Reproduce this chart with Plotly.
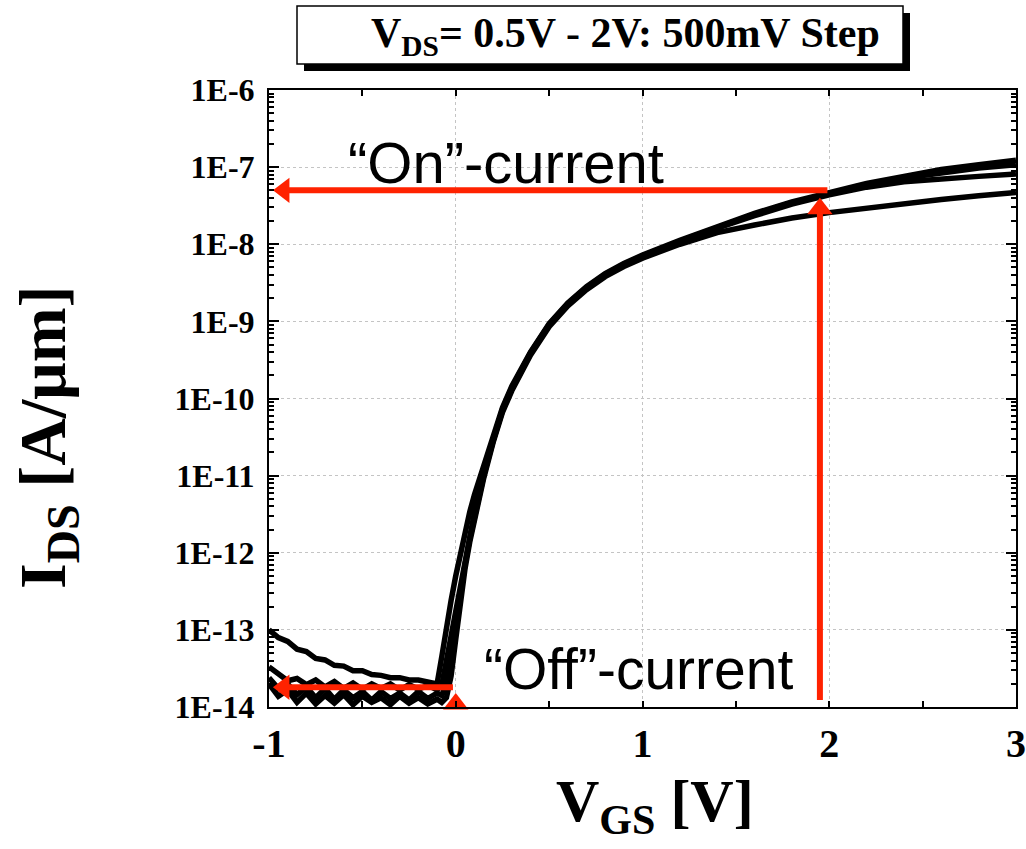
import numpy as np
import plotly.graph_objects as go

# ---------------- data ----------------
VGS = [-1.0, -0.95, -0.9, -0.85, -0.8, -0.75, -0.7, -0.65, -0.6, -0.55,
       -0.5, -0.45, -0.4, -0.35, -0.3, -0.25, -0.2, -0.15, -0.1,
       -0.075, -0.05, -0.025, 0.0, 0.025, 0.05, 0.075, 0.1,
       0.15, 0.2, 0.25, 0.3, 0.4, 0.5, 0.6, 0.7, 0.8, 0.9, 1.0,
       1.2, 1.4, 1.6, 1.8, 2.0, 2.2, 2.4, 2.6, 2.8, 3.0]

# log10(I_DS [A/um]) for each drain bias
LOG_IDS_2V0 = [-13.00, -13.10, -13.15, -13.25, -13.28, -13.37, -13.39, -13.46, -13.47, -13.53,
               -13.53, -13.58, -13.59, -13.62, -13.62, -13.65, -13.65, -13.68, -13.70,
               -13.35, -12.95, -12.62, -12.30, -12.00, -11.72, -11.47, -11.25,
               -10.86, -10.48, -10.12, -9.84, -9.40, -9.03, -8.76, -8.55, -8.38, -8.25, -8.14,
               -7.95, -7.77, -7.60, -7.45, -7.33, -7.21, -7.12, -7.03, -6.97, -6.91]
LOG_IDS_1V5 = [-13.48, -13.58, -13.66, -13.63, -13.71, -13.65, -13.74, -13.67, -13.76, -13.69,
               -13.77, -13.70, -13.76, -13.70, -13.78, -13.71, -13.77, -13.72, -13.78,
               -13.72, -13.40, -13.05, -12.72, -12.38, -12.05, -11.75, -11.48,
               -10.95, -10.52, -10.14, -9.86, -9.41, -9.04, -8.77, -8.56, -8.39, -8.26, -8.15,
               -7.96, -7.78, -7.61, -7.46, -7.34, -7.23, -7.14, -7.07, -7.01, -6.97]
LOG_IDS_1V0 = [-13.62, -13.76, -13.70, -13.84, -13.74, -13.88, -13.76, -13.90, -13.78, -13.88,
               -13.80, -13.91, -13.80, -13.89, -13.82, -13.91, -13.80, -13.89, -13.82,
               -13.85, -13.70, -13.30, -12.92, -12.52, -12.15, -11.82, -11.52,
               -11.00, -10.55, -10.16, -9.88, -9.42, -9.05, -8.78, -8.57, -8.40, -8.27, -8.16,
               -7.97, -7.79, -7.63, -7.48, -7.36, -7.26, -7.19, -7.15, -7.12, -7.09]
LOG_IDS_0V5 = [-13.70, -13.86, -13.78, -13.94, -13.82, -13.96, -13.85, -13.95, -13.84, -13.97,
               -13.86, -13.94, -13.88, -13.97, -13.86, -13.95, -13.88, -13.96, -13.90,
               -13.94, -13.88, -13.60, -13.12, -12.62, -12.20, -11.86, -11.56,
               -11.03, -10.57, -10.18, -9.90, -9.44, -9.07, -8.80, -8.59, -8.42, -8.29, -8.18,
               -8.00, -7.85, -7.75, -7.66, -7.59, -7.53, -7.47, -7.42, -7.37, -7.33]

SERIES = [("V_DS = 0.5 V", LOG_IDS_0V5), ("V_DS = 1.0 V", LOG_IDS_1V0),
          ("V_DS = 1.5 V", LOG_IDS_1V5), ("V_DS = 2.0 V", LOG_IDS_2V0)]

X_TICKS = [-1, 0, 1, 2, 3]
X_TICKTEXT = ["-1", "0", "1", "2", "3"]
Y_TICKS = [1e-14, 1e-13, 1e-12, 1e-11, 1e-10, 1e-9, 1e-8, 1e-7, 1e-6]
Y_TICKTEXT = ["1E-14", "1E-13", "1E-12", "1E-11", "1E-10", "1E-9", "1E-8", "1E-7", "1E-6"]

# annotation arrows (values on the chart scales)
ON_V = 1.95          # V_GS where on-current is read
ON_I = 5.0e-8        # on-current level
OFF_V = 0.0          # V_GS where off-current is read
OFF_I = 1.8e-14      # off-current level
OFF_LINE_START_V = -0.015
ARROW_HEAD_LEFT_V = -0.92
VLINE_BOTTOM_I = 1.23e-14
ON_HEAD_I = ON_I * 10 ** -0.24
OFF_HEAD_I = 10 ** -13.96

RED = "#ff2200"
SERIF = "Liberation Serif"
SANS = "Liberation Sans"

fig = go.Figure()

for name, logs in SERIES:
    fig.add_trace(go.Scatter(x=VGS, y=10 ** np.array(logs), mode="lines", name=name,
                             line=dict(color="black", width=5.5), showlegend=False))

# On-current horizontal arrow
fig.add_trace(go.Scatter(x=[ON_V + 0.04, ARROW_HEAD_LEFT_V], y=[ON_I, ON_I], mode="lines",
                         line=dict(color=RED, width=6), showlegend=False, hoverinfo="skip"))
fig.add_trace(go.Scatter(x=[ARROW_HEAD_LEFT_V], y=[ON_I], mode="markers", cliponaxis=False,
                         marker=dict(symbol="triangle-left", size=22, color=RED), showlegend=False, hoverinfo="skip"))
# On-current vertical arrow
fig.add_trace(go.Scatter(x=[ON_V, ON_V], y=[VLINE_BOTTOM_I, ON_HEAD_I], mode="lines",
                         line=dict(color=RED, width=6), showlegend=False, hoverinfo="skip"))
fig.add_trace(go.Scatter(x=[ON_V], y=[ON_HEAD_I], mode="markers", cliponaxis=False,
                         marker=dict(symbol="triangle-up", size=22, color=RED), showlegend=False, hoverinfo="skip"))
# Off-current horizontal arrow
fig.add_trace(go.Scatter(x=[OFF_LINE_START_V, ARROW_HEAD_LEFT_V], y=[OFF_I, OFF_I], mode="lines",
                         line=dict(color=RED, width=6), showlegend=False, hoverinfo="skip"))
fig.add_trace(go.Scatter(x=[ARROW_HEAD_LEFT_V], y=[OFF_I], mode="markers", cliponaxis=False,
                         marker=dict(symbol="triangle-left", size=22, color=RED), showlegend=False, hoverinfo="skip"))
# Off-current marker at V_GS = 0
fig.add_trace(go.Scatter(x=[OFF_V], y=[OFF_HEAD_I], mode="markers", cliponaxis=False,
                         marker=dict(symbol="triangle-up", size=22, color=RED), showlegend=False, hoverinfo="skip"))

fig.update_layout(
    width=1026, height=849,
    margin=dict(l=269, r=10, t=90, b=142, autoexpand=False),
    plot_bgcolor="white", paper_bgcolor="white",
    showlegend=False,
)

fig.update_xaxes(
    range=[-1, 3], tickmode="array", tickvals=X_TICKS, ticktext=X_TICKTEXT, automargin=False,
    showgrid=True, gridcolor="#c4c4c4", griddash="dot", gridwidth=1,
    zeroline=False, showline=True, linecolor="black", linewidth=2, mirror="ticks",
    ticks="inside", ticklen=6, tickwidth=1.5, tickcolor="black",
    tickfont=dict(family=SERIF, size=40, color="black", weight="bold"),
    minor=dict(dtick=0.5, tick0=0, ticks="inside", ticklen=6, tickwidth=1.5, tickcolor="black", showgrid=False),
)
fig.update_yaxes(
    type="log", range=[-14, -6], tickmode="array", tickvals=Y_TICKS, ticktext=Y_TICKTEXT, automargin=False,
    showgrid=True, gridcolor="#c4c4c4", griddash="dot", gridwidth=1,
    zeroline=False, showline=True, linecolor="black", linewidth=2, mirror="ticks",
    ticks="inside", ticklen=10, tickwidth=1.5, tickcolor="black",
    tickfont=dict(family=SERIF, size=32, color="black", weight="bold"),
    ticklabelstandoff=6,
    minor=dict(dtick="D1", ticks="inside", ticklen=5, tickwidth=1.5, tickcolor="black", showgrid=False),
)

# title box with drop shadow (paper coords relative to plot area)
W, H = 747.0, 617.0
def px(xp):
    return (xp - 269) / W
def py(yp):
    return (707 - yp) / H

fig.add_shape(type="rect", xref="paper", yref="paper", x0=px(304), x1=px(910), y0=py(71), y1=py(13),
              fillcolor="black", line=dict(width=0), layer="above")
fig.add_shape(type="rect", xref="paper", yref="paper", x0=px(297), x1=px(903), y0=py(64), y1=py(6),
              fillcolor="white", line=dict(color="black", width=1.5), layer="above")

fig.add_annotation(xref="paper", yref="paper", x=px(625), y=py(36), xanchor="center", yanchor="middle",
                   text="<b>V<sub>DS</sub>= 0.5V - 2V: 500mV Step</b>", showarrow=False,
                   font=dict(family=SERIF, size=42, color="black"))

fig.add_annotation(xref="paper", yref="paper", x=px(506), y=py(162), xanchor="center", yanchor="middle",
                   text="“On”-current", showarrow=False,
                   font=dict(family=SANS, size=58, color="black"))
fig.add_annotation(xref="paper", yref="paper", x=px(638), y=py(669), xanchor="center", yanchor="middle",
                   text="“Off”-current", showarrow=False,
                   font=dict(family=SANS, size=57, color="black"))

fig.add_annotation(xref="paper", yref="paper", x=px(655), y=py(805), xanchor="center", yanchor="middle",
                   text="<b>V<sub>GS</sub> [V]</b>", showarrow=False,
                   font=dict(family=SERIF, size=60, color="black"))
fig.add_annotation(xref="paper", yref="paper", x=px(48), y=py(437), xanchor="center", yanchor="middle",
                   text="<b>I<sub>DS</sub> [A/μm]</b>", showarrow=False, textangle=-90,
                   font=dict(family=SERIF, size=66, color="black"))

fig.write_html("out.html")
